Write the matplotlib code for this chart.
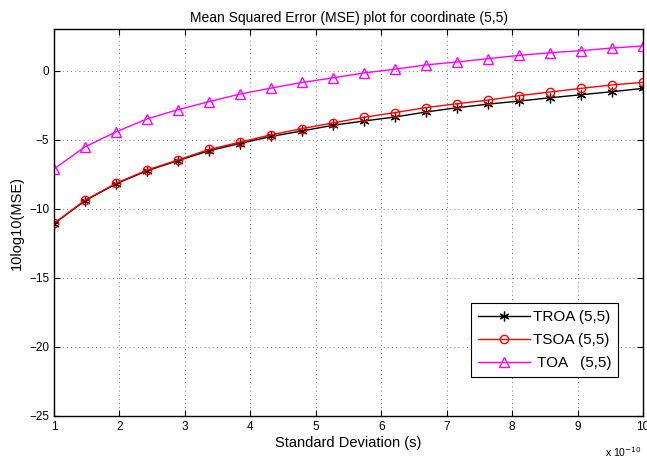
import matplotlib
matplotlib.use("Agg")
import matplotlib.pyplot as plt

plt.rcParams['font.family'] = ['Liberation Sans', 'DejaVu Sans']

# standard deviation, in units of 1e-10 s
sigma = [1.0, 1.474, 1.947, 2.421, 2.895, 3.368, 3.842, 4.316, 4.789, 5.263,
         5.737, 6.211, 6.684, 7.158, 7.632, 8.105, 8.579, 9.053, 9.526, 10.0]

troa = [-11.08, -9.42, -8.20, -7.25, -6.52, -5.80, -5.28, -4.77, -4.37, -3.96,
        -3.65, -3.36, -3.00, -2.69, -2.43, -2.21, -1.97, -1.75, -1.53, -1.29]
tsoa = [-11.05, -9.38, -8.16, -7.20, -6.47, -5.71, -5.18, -4.65, -4.20, -3.79,
        -3.38, -3.04, -2.68, -2.40, -2.14, -1.82, -1.55, -1.29, -1.04, -0.85]
toa = [-7.12, -5.52, -4.44, -3.50, -2.83, -2.25, -1.70, -1.27, -0.86, -0.53,
       -0.17, 0.10, 0.41, 0.62, 0.86, 1.10, 1.29, 1.44, 1.63, 1.78]

fig = plt.figure(figsize=(6.47, 4.62), dpi=100)
ax = fig.add_axes([0.0835, 0.0996, 0.9103, 0.8374])

ax.plot(sigma, troa, color='black', marker=(6, 2, 0), markersize=7, lw=1,
        markeredgewidth=0.9, label='TROA (5,5)')
ax.plot(sigma, tsoa, color='red', marker='o', markersize=6, lw=1,
        markerfacecolor='none', label='TSOA (5,5)')
ax.plot(sigma, toa, color='magenta', marker='^', markersize=7, lw=1,
        markerfacecolor='none', label=' TOA   (5,5)')

ax.set_xlim(1, 10)
ax.set_ylim(-25, 3)
ax.set_xticks(range(1, 11))
ax.set_yticks([-25, -20, -15, -10, -5, 0])
ax.tick_params(direction='in', top=True, right=True, labelsize=8.5, length=4)
ax.grid(True, color='#555555', linestyle=(0, (1, 4)), linewidth=0.6)
for s in ax.spines.values():
    s.set_linewidth(1)

ax.set_title('Mean Squared Error (MSE) plot for coordinate (5,5)', fontsize=10, pad=5)
ax.set_xlabel('Standard Deviation (s)', fontsize=10.5, labelpad=2)
ax.set_ylabel('10log10(MSE)', fontsize=10.5, labelpad=4)
fig.text(0.992, 0.022, r'x 10$^{-10}$', fontsize=7.5, ha='right', va='center')

leg = ax.legend(loc='lower right', bbox_to_anchor=(0.958, 0.1), fontsize=11,
                handlelength=3.4, fancybox=False, framealpha=1,
                edgecolor='black', borderaxespad=0, labelspacing=0.6,
                handletextpad=0.2, borderpad=0.45)
leg.get_frame().set_linewidth(0.8)

fig.savefig('out.png', dpi=100)
